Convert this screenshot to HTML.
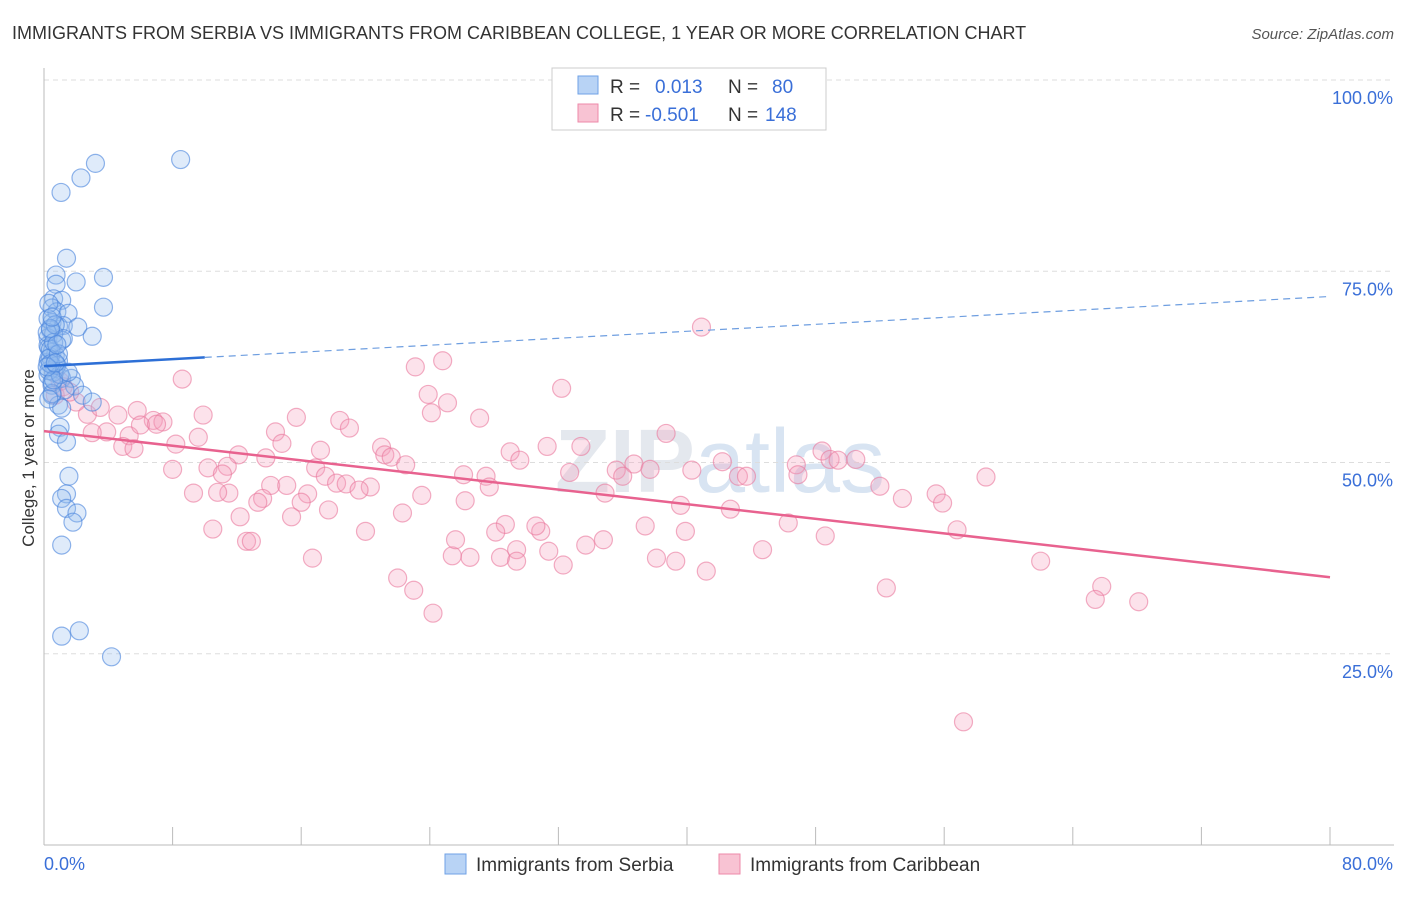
<!DOCTYPE html>
<html><head><meta charset="utf-8"><style>
body{margin:0;background:#fff;font-family:"Liberation Sans",sans-serif}
svg text{font-family:"Liberation Sans",sans-serif}
</style></head><body>
<svg id="chart" width="1406" height="892" xmlns="http://www.w3.org/2000/svg">
<text x="12" y="39" font-size="18" fill="#333">IMMIGRANTS FROM SERBIA VS IMMIGRANTS FROM CARIBBEAN COLLEGE, 1 YEAR OR MORE CORRELATION CHART</text>
<text x="1394" y="39" font-size="15" fill="#555" text-anchor="end" font-style="italic">Source: ZipAtlas.com</text>
<text x="720" y="492" font-size="90" fill="#e4e8ee" text-anchor="middle" font-weight="bold">ZIP<tspan fill="#d8e4f2" font-weight="normal">atlas</tspan></text>
<g id="grid"></g><g id="axes"></g><g id="pts"></g><g id="lines"></g>
<text transform="translate(34,458) rotate(-90)" font-size="17" fill="#333" text-anchor="middle">College, 1 year or more</text>
<g>
<rect x="552" y="68" width="274" height="62" fill="#fff" stroke="#ccc"/>
<rect x="578" y="76" width="20" height="18" fill="#b8d3f5" stroke="#6fa1e6"/>
<rect x="578" y="104" width="20" height="18" fill="#f8c3d3" stroke="#ee8aa9"/>
<text x="610" y="93" font-size="19" fill="#333">R =  <tspan fill="#3a6fd8" x="655">0.013</tspan><tspan fill="#333" x="728">N =</tspan><tspan fill="#3a6fd8" x="772">80</tspan></text>
<text x="610" y="121" font-size="19" fill="#333">R = <tspan fill="#3a6fd8" x="645">-0.501</tspan><tspan fill="#333" x="728">N =</tspan><tspan fill="#3a6fd8" x="765">148</tspan></text>
</g>
<g>
<rect x="445" y="854" width="21" height="20" fill="#b8d3f5" stroke="#6fa1e6"/>
<text x="476" y="871" font-size="19" fill="#333">Immigrants from Serbia</text>
<rect x="719" y="854" width="21" height="20" fill="#f8c3d3" stroke="#ee8aa9"/>
<text x="750" y="871" font-size="19" fill="#333">Immigrants from Caribbean</text>
</g>
</svg>
<script>
const yTicks=[25,50,75,100];
const yTickLabels=["25.0%","50.0%","75.0%","100.0%"];
const xTickLabels=["0.0%","80.0%"];
const serbiaX=[1.06,3.2,2.3,8.5,1.4,3.7,0.75,0.75,2.0,0.6,1.1,3.7,0.5,0.8,1.5,0.5,0.9,1.2,2.1,0.4,0.25,1.1,3.0,0.25,0.5,0.7,0.25,0.7,0.25,1.1,1.7,1.9,0.5,0.5,2.4,3.0,0.9,1.1,1.0,0.9,1.4,1.55,1.4,1.1,1.4,2.05,1.8,1.1,1.1,2.2,4.2,0.25,0.4,0.6,0.3,0.6,0.9,0.3,0.5,1.3,0.4,0.8,0.2,0.6,1.0,0.3,0.5,0.7,1.2,0.4,0.3,0.9,0.6,0.4,1.5,0.2,0.8,0.5,0.3,0.7];
const serbiaY=[85.3,89.1,87.2,89.6,76.7,74.2,74.5,73.3,73.6,71.4,71.2,70.3,70.2,69.7,69.5,68.3,67.8,67.9,67.7,67.3,66.3,66.0,66.5,65.3,64.4,64.0,63.1,62.3,61.4,61.0,61.0,60.0,60.1,58.8,58.8,57.9,57.5,57.1,54.6,53.7,52.7,48.2,45.9,45.3,44.0,43.4,42.2,39.2,27.3,28.0,24.6,68.8,63.8,61.8,65.0,66.8,63.3,62.0,60.5,59.5,64.8,62.7,67.0,65.7,61.5,63.6,59.0,68.0,66.2,62.9,70.8,64.2,60.8,67.5,61.8,62.5,65.4,69.0,58.3,63.0];
const caribX=[40.9,24.8,23.1,8.6,32.2,23.9,25.1,9.9,15.7,18.4,24.1,27.1,4.6,5.8,6.8,7.4,2.7,3.5,19.0,14.4,9.6,8.2,5.3,3.9,3.0,14.8,17.2,21.0,21.2,21.6,13.8,12.1,22.5,29.0,31.3,29.6,33.4,38.7,36.7,35.6,37.7,32.7,26.1,27.5,27.7,16.9,17.5,8.0,10.2,11.4,11.1,18.2,18.8,20.3,19.6,14.1,15.1,16.4,9.3,11.5,10.8,13.6,13.3,16.0,26.2,23.5,42.2,43.2,43.7,46.8,46.9,48.4,48.9,49.4,50.5,52.0,53.4,55.5,55.9,58.6,56.8,62.0,65.8,65.4,68.1,52.4,57.2,39.6,42.7,46.3,48.6,44.7,41.2,39.3,38.1,39.9,37.4,34.8,33.7,32.3,31.4,30.9,30.6,29.4,28.7,28.1,28.4,29.4,26.5,25.4,25.6,22.0,23.0,24.2,20.0,22.3,17.7,16.7,12.2,12.6,12.9,10.5,15.4,1.0,0.7,1.2,2.0,1.6,6.0,7.0,4.9,5.6,34.9,40.3,36.0];
const caribY=[67.7,63.3,62.5,60.9,59.7,58.9,57.8,56.2,55.9,55.5,56.5,55.8,56.2,56.8,55.5,55.3,56.3,57.2,54.5,54.0,53.3,52.4,53.5,54.0,53.9,52.5,51.6,52.0,51.0,50.7,50.6,51.0,49.7,51.4,52.1,50.3,52.1,53.8,49.8,49.0,49.1,48.7,48.4,48.2,46.8,49.3,48.2,49.1,49.3,49.5,48.5,47.3,47.2,46.8,46.4,47.0,47.0,45.9,46.0,46.0,46.1,45.3,44.8,44.8,45.0,45.7,50.1,48.2,48.2,49.7,48.4,51.5,50.4,50.3,50.4,46.9,45.3,45.9,44.7,48.1,41.2,37.1,33.8,32.1,31.8,33.6,16.1,44.4,43.9,42.1,40.4,38.6,35.8,37.1,37.5,41.0,41.7,39.9,39.2,36.6,38.4,41.0,41.7,38.6,41.9,40.9,37.6,37.1,37.6,37.8,39.9,34.9,33.3,30.3,41.0,43.4,43.8,37.5,42.9,39.7,39.7,41.3,42.9,60.6,58.8,59.9,57.9,59.2,54.9,55.0,52.1,51.8,46.0,49.0,48.2];
const serbiaTrend=[62.6,71.7];
const caribTrend=[54.1,35.0];
const NS="http://www.w3.org/2000/svg";
const X0=44,X1=1330,Y0=845,Y100=80;
const sx=v=>X0+(v/80)*(X1-X0);
const sy=v=>Y0-(v/100)*(Y0-Y100);
function mk(tag,attrs,parent){const e=document.createElementNS(NS,tag);for(const k in attrs)e.setAttribute(k,attrs[k]);document.getElementById(parent).appendChild(e);return e;}
yTicks.forEach((t,i)=>{
 const g=mk('line',{x1:X0,x2:1394,y1:sy(t),y2:sy(t),stroke:'#ddd','stroke-dasharray':'5,4'},'grid');
 
 
 const l=mk('text',{x:1393,y:sy(t)+24,'font-size':18,fill:'#3a6fd8','text-anchor':'end'},'axes');
 l.textContent=yTickLabels[i];
 
 
});
const ax=mk('line',{x1:X0,x2:X0,y1:68,y2:Y0,stroke:'#bbb'},'axes');


const bx=mk('line',{x1:X0,x2:1394,y1:Y0,y2:Y0,stroke:'#bbb'},'axes');


for(let i=0;i<=10;i++){const t=mk('line',{x1:sx(i*8),x2:sx(i*8),y1:Y0,y2:Y0-18,stroke:'#bbb'},'axes');
 
 }
[[0,'start',X0],[80,'end',1393]].forEach((d,i)=>{const l=mk('text',{x:d[2],y:870,'font-size':18,fill:'#3a6fd8','text-anchor':d[1]},'axes');l.textContent=xTickLabels[i];
 
 });
caribX.forEach((v,i)=>{const c=mk('circle',{cx:sx(v),cy:sy(caribY[i]),r:9,fill:'rgba(244,160,188,0.3)',stroke:'rgba(234,120,157,0.6)','stroke-width':1.2},'pts');
 
 });
serbiaX.forEach((v,i)=>{const c=mk('circle',{cx:sx(v),cy:sy(serbiaY[i]),r:9,fill:'rgba(150,190,240,0.3)',stroke:'rgba(70,130,220,0.6)','stroke-width':1.2},'pts');
 
 });
const bAt=x=>serbiaTrend[0]+(serbiaTrend[1]-serbiaTrend[0])*x/80;
const l1=mk('line',{x1:sx(0),y1:sy(bAt(0)),x2:sx(10),y2:sy(bAt(10)),stroke:'#2d6fd6','stroke-width':2.5},'lines');


const l2=mk('line',{x1:sx(10),y1:sy(bAt(10)),x2:sx(80),y2:sy(bAt(80)),stroke:'#6e9ee0','stroke-width':1.2,'stroke-dasharray':'7,5'},'lines');


const l3=mk('line',{x1:sx(0),y1:sy(caribTrend[0]),x2:sx(80),y2:sy(caribTrend[1]),stroke:'#e8628f','stroke-width':2.5},'lines');


</script>
</body></html>
